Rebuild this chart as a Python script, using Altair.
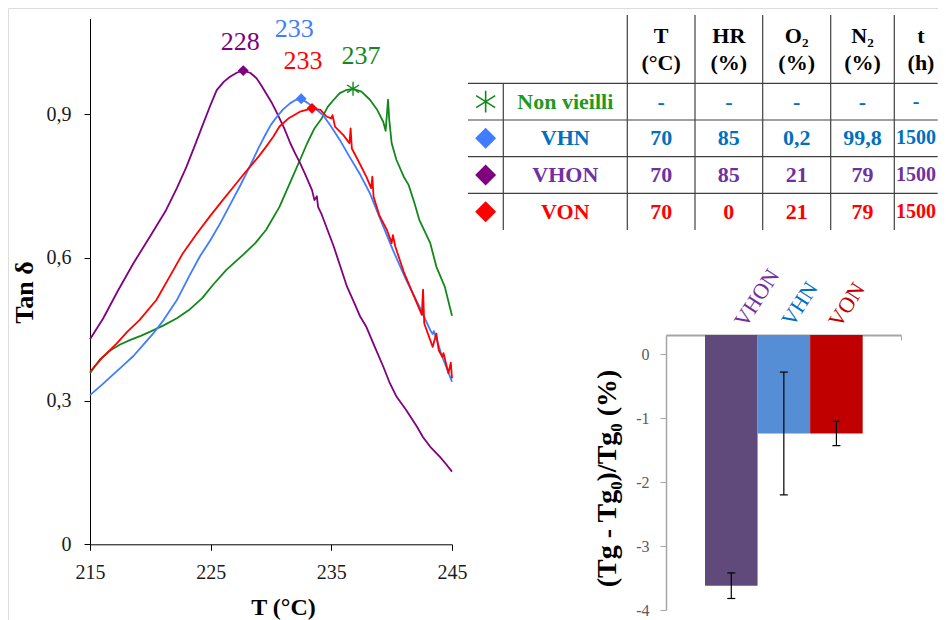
import altair as alt
import pandas as pd

FONT = "Liberation Serif, Times New Roman, serif"
W, H = 930, 612

# ---------------- data ----------------
series_names = ["Non vieilli", "VHN", "VHON", "VON"]

T_nv = [215.0, 215.8, 216.7, 217.5, 218.3, 219.2, 220.0, 221.1, 222.2, 223.2, 224.3,
        225.2, 226.3, 227.7, 228.7, 229.6, 230.7, 231.8, 232.4, 233.0, 233.6, 234.2,
        234.7, 235.2, 235.7, 236.2, 236.8, 237.5, 238.2, 238.8, 239.3, 239.5, 239.7,
        239.8, 240.0, 240.4, 241.0, 241.4, 241.9, 242.3, 243.2, 243.7, 244.4, 245.0]
tan_nv = [0.358, 0.386, 0.406, 0.418, 0.427, 0.436, 0.445, 0.458, 0.473, 0.490, 0.515,
          0.543, 0.574, 0.606, 0.630, 0.658, 0.706, 0.769, 0.804, 0.839, 0.870, 0.891,
          0.915, 0.930, 0.944, 0.950, 0.953, 0.947, 0.930, 0.909, 0.884, 0.865, 0.930,
          0.888, 0.839, 0.804, 0.769, 0.752, 0.713, 0.678, 0.630, 0.581, 0.539, 0.478]

T_vhn = [215.0, 216.0, 217.0, 218.0, 218.6, 219.5, 220.3, 221.1, 222.2, 223.2, 224.1,
         225.0, 225.8, 226.6, 227.4, 228.0, 228.5, 229.0, 229.6, 230.0, 230.5, 231.0,
         231.6, 232.0, 232.5, 233.0, 233.5, 234.3, 234.9, 235.7, 236.5, 237.4, 238.2,
         239.0, 240.1, 241.2, 242.3, 243.2, 243.4, 243.5, 244.2, 245.0]
tan_vhn = [0.312, 0.334, 0.357, 0.380, 0.394, 0.420, 0.443, 0.469, 0.511, 0.560, 0.602,
           0.637, 0.672, 0.710, 0.748, 0.778, 0.804, 0.831, 0.860, 0.878, 0.895, 0.910,
           0.923, 0.929, 0.932, 0.924, 0.915, 0.898, 0.877, 0.846, 0.811, 0.773, 0.734,
           0.684, 0.616, 0.553, 0.497, 0.448, 0.440, 0.446, 0.392, 0.340]

T_vhon = [215.0, 216.1, 217.3, 218.6, 220.0, 221.3, 222.2, 223.0, 223.7, 224.4, 225.0,
          225.5, 226.1, 226.6, 227.2, 227.7, 228.3, 228.8, 229.2, 229.6, 230.1, 230.5,
          231.1, 231.6, 232.0, 232.4, 232.8, 233.4, 233.6, 233.8, 233.9, 234.2, 235.2,
          236.3, 236.9, 237.4, 237.9, 238.6, 239.3, 239.8, 240.4, 241.2, 242.1, 242.6,
          243.2, 244.0, 244.5, 245.0]
tan_vhon = [0.429, 0.473, 0.530, 0.588, 0.645, 0.699, 0.745, 0.790, 0.835, 0.881, 0.920,
            0.950, 0.968, 0.978, 0.987, 0.991, 0.986, 0.975, 0.960, 0.943, 0.922, 0.902,
            0.870, 0.839, 0.818, 0.798, 0.776, 0.741, 0.720, 0.728, 0.706, 0.690, 0.623,
            0.539, 0.505, 0.476, 0.455, 0.413, 0.372, 0.340, 0.309, 0.281, 0.246, 0.224,
            0.204, 0.183, 0.168, 0.152]

T_von = [215.0, 216.0, 217.2, 218.1, 219.1, 220.5, 221.6, 222.7, 223.8, 224.9, 225.9,
         226.9, 227.7, 228.5, 229.0, 229.6, 230.2, 230.7, 231.5, 232.4, 233.4, 234.1,
         234.6, 235.0, 235.1, 235.3, 236.0, 236.5, 236.6, 236.7, 237.2, 237.9, 238.3,
         238.4, 238.5, 239.0, 239.6, 240.0, 240.1, 240.3, 241.0, 241.8, 242.5, 242.6,
         242.7, 243.4, 243.7, 243.9, 244.2, 244.3, 244.7, 244.9, 245.0]
tan_von = [0.361, 0.390, 0.420, 0.445, 0.469, 0.511, 0.560, 0.609, 0.648, 0.685, 0.717,
           0.748, 0.773, 0.797, 0.812, 0.832, 0.853, 0.874, 0.892, 0.905, 0.912, 0.909,
           0.895, 0.891, 0.898, 0.874, 0.856, 0.839, 0.870, 0.828, 0.804, 0.769, 0.745,
           0.769, 0.727, 0.687, 0.658, 0.630, 0.647, 0.623, 0.570, 0.522, 0.480, 0.533,
           0.462, 0.413, 0.441, 0.406, 0.392, 0.400, 0.358, 0.380, 0.347]

peak_T = [236.8, 232.5, 227.7, 233.4]
peak_tan = [0.953, 0.932, 0.991, 0.912]
peak_text = ["237", "233", "228", "233"]

table_head = ["T\n(°C)", "HR\n(%)", "O₂\n(%)", "N₂\n(%)", "t\n(h)"]
table_T = ["-", "70", "70", "70"]
table_HR = ["-", "85", "85", "0"]
table_O2 = ["-", "0,2", "21", "21"]
table_N2 = ["-", "99,8", "79", "79"]
table_t = ["-", "1500", "1500", "1500"]

bar_cats = ["VHON", "VHN", "VON"]
bar_vals = [-3.62, -1.24, -1.24]
bar_errs = [0.20, 0.96, 0.19]

# ---------------- styles ----------------
line_colors = ["#11891a", "#3f7cff", "#800080", "#ff0000"]
text_keys = ["hdr", "Non vieilli", "dash", "VHN", "VHON", "VON"]
text_colors = ["#000000", "#1f9a1f", "#0070c0", "#0070c0", "#7030a0", "#ff0000"]
bar_colors = ["#604a7b", "#558ed5", "#c00000"]
bar_label_colors = ["#7030a0", "#0070c0", "#c00000"]
STAR = "M0,-1L0,1M-0.87,-0.55L0.87,0.55M-0.87,0.55L0.87,-0.55"

# ---------------- left: tan delta curves ----------------
curves = pd.concat([
    pd.DataFrame({"series": "Non vieilli", "T": T_nv, "tan": tan_nv}),
    pd.DataFrame({"series": "VHON", "T": T_vhon, "tan": tan_vhon}),
    pd.DataFrame({"series": "VHN", "T": T_vhn, "tan": tan_vhn}),
    pd.DataFrame({"series": "VON", "T": T_von, "tan": tan_von}),
], ignore_index=True)
peaks = pd.DataFrame({"series": series_names, "T": peak_T, "tan": peak_tan, "label": peak_text})

x_left = alt.Scale(domain=[215, 245], range=[82, 444], zero=False, nice=False)
y_left = alt.Scale(domain=[0, 1.1], range=[536.3, 10.5], zero=False, nice=False)
c_series = alt.Scale(domain=series_names, range=line_colors)

ax_x_left = alt.Axis(orient="bottom", offset=536.3 - H, values=[215, 225, 235, 245],
                     title="T (°C)", titleFont=FONT, titleFontSize=24, titleFontWeight="bold",
                     titleColor="#000000", titleX=275, titleY=70, titleBaseline="alphabetic",
                     titleAlign="center",
                     labelFont=FONT, labelFontSize=20, labelColor="#1a1a1a", labelPadding=12,
                     labelFlush=False, tickSize=6, tickColor="#000000", domainColor="#000000",
                     grid=False)
ax_y_left = alt.Axis(orient="left", offset=-82, values=[0, 0.3, 0.6, 0.9],
                     labelExpr="datum.value == 0 ? '0' : replace(format(datum.value, '.1f'), '.', ',')",
                     title="Tan δ", titleFont=FONT, titleFontSize=26, titleFontWeight="bold",
                     titleColor="#000000", titleX=-66, titleY=284, titleBaseline="middle",
                     titleAngle=270, titleAlign="center",
                     labelFont=FONT, labelFontSize=20, labelColor="#1a1a1a", labelPadding=13,
                     labelFlush=False, tickSize=6, tickColor="#000000", domainColor="#000000",
                     grid=False)

def left_enc(ch):
    return ch.encode(
        x=alt.X("T:Q", scale=x_left, axis=ax_x_left),
        y=alt.Y("tan:Q", scale=y_left, axis=ax_y_left),
        color=alt.Color("series:N", scale=c_series, legend=None),
    )

lines = left_enc(alt.Chart(curves).mark_line(strokeWidth=1.8, strokeJoin="round"))
star = left_enc(alt.Chart(peaks).transform_filter(alt.datum.series == "Non vieilli")
                .mark_point(shape=STAR, filled=False, size=190, strokeWidth=1.4, opacity=1))
diam = left_enc(alt.Chart(peaks).transform_filter(alt.datum.series != "Non vieilli")
                .mark_point(shape="diamond", filled=True, size=120, opacity=1))

label_offsets = {"Non vieilli": (8, -33), "VHN": (-7, -70), "VHON": (-3, -29), "VON": (-9, -47)}
label_layers = []
for s, (dx, dy) in label_offsets.items():
    label_layers.append(
        left_enc(alt.Chart(peaks).transform_filter(alt.datum.series == s)
                 .mark_text(font=FONT, fontSize=26, dx=dx, dy=dy, baseline="middle", align="center"))
        .encode(text="label:N")
    )

left = alt.layer(lines, star, diam, *label_layers)

# ---------------- table ----------------
n_rows = len(series_names)
n_cols = 2 + len(table_head)
x_tab = alt.Scale(domain=[b - 0.5 for b in range(n_cols + 1)],
                  range=[460, 495.3, 619.3, 687, 754.7, 822.7, 886.3, 929.7], zero=False, nice=False)
y_tab = alt.Scale(domain=[-0.5, 0.5, n_rows + 0.5], range=[7, 75.3, 222], zero=False, nice=False)
c_text = alt.Scale(domain=text_keys, range=text_colors)

cells = []
for j, h in enumerate(table_head):
    cells.append(dict(col=j + 2, row=0, text=h, key="hdr"))
value_cols = [table_T, table_HR, table_O2, table_N2, table_t]
for i, name in enumerate(series_names):
    cells.append(dict(col=1, row=i + 1, text=name, key=name))
    for j, vals in enumerate(value_cols):
        cells.append(dict(col=j + 2, row=i + 1, text=vals[i],
                          key=("dash" if vals[i] == "-" else name)))
cells = pd.DataFrame(cells)

rules = [dict(x=-0.5, x2=n_cols - 0.5, y=r + 0.5, y2=r + 0.5) for r in range(n_rows)]
rules.append(dict(x=0.5, x2=0.5, y=0.5, y2=n_rows + 0.5))
rules += [dict(x=c + 0.5, x2=c + 0.5, y=-0.5, y2=n_rows + 0.5) for c in range(1, n_cols - 1)]
rules = pd.DataFrame(rules)

syms = pd.DataFrame({"series": series_names, "col": 0, "row": list(range(1, n_rows + 1))})

def tab_enc(ch, color_scale, color_field):
    return ch.encode(
        x=alt.X("col:Q", scale=x_tab, axis=None),
        y=alt.Y("row:Q", scale=y_tab, axis=None),
        color=alt.Color(color_field, scale=color_scale, legend=None),
    )

last = n_cols - 1
tab_head = tab_enc(alt.Chart(cells).transform_filter((alt.datum.row == 0) & (alt.datum.col < last))
                   .mark_text(font=FONT, fontSize=22, fontWeight="bold", lineBreak="\n",
                              lineHeight=27, baseline="middle", align="center", dy=-13.5),
                   c_text, "key:N").encode(text="text:N")
tab_head_last = tab_enc(alt.Chart(cells).transform_filter((alt.datum.row == 0) & (alt.datum.col == last))
                        .mark_text(font=FONT, fontSize=22, fontWeight="bold", lineBreak="\n",
                                   lineHeight=27, baseline="middle", align="center", dy=-13.5, dx=5),
                        c_text, "key:N").encode(text="text:N")
tab_body = tab_enc(alt.Chart(cells).transform_filter((alt.datum.row > 0) & (alt.datum.col < last))
                   .mark_text(font=FONT, fontSize=22, fontWeight="bold", baseline="middle",
                              align="center"),
                   c_text, "key:N").encode(text="text:N")
tab_last = tab_enc(alt.Chart(cells).transform_filter((alt.datum.row > 0) & (alt.datum.col == last))
                   .mark_text(font=FONT, fontSize=20, fontWeight="bold", baseline="middle",
                              align="center"),
                   c_text, "key:N").encode(text="text:N")
tab_rules = alt.Chart(rules).mark_rule(color="#404040", strokeWidth=1.2).encode(
    x=alt.X("x:Q", scale=x_tab, axis=None), x2="x2:Q",
    y=alt.Y("y:Q", scale=y_tab, axis=None), y2="y2:Q",
)
tab_star = tab_enc(alt.Chart(syms).transform_filter(alt.datum.series == "Non vieilli")
                   .mark_point(shape=STAR, filled=False, size=480, strokeWidth=1.6, opacity=1),
                   c_series, "series:N")
tab_diam = tab_enc(alt.Chart(syms).transform_filter(alt.datum.series != "Non vieilli")
                   .mark_point(shape="diamond", filled=True, size=440, opacity=1),
                   c_series, "series:N")

table = alt.layer(tab_rules, tab_head, tab_head_last, tab_body, tab_last,
                  tab_star, tab_diam).resolve_scale(color="independent")

# ---------------- bar chart ----------------
bars_df = pd.DataFrame({
    "cat": bar_cats,
    "x0": list(range(len(bar_cats))),
    "x1": [i + 1 for i in range(len(bar_cats))],
    "mid": [i + 0.5 for i in range(len(bar_cats))],
    "val": bar_vals,
    "lo": [v - e for v, e in zip(bar_vals, bar_errs)],
    "hi": [v + e for v, e in zip(bar_vals, bar_errs)],
})
x_bar = alt.Scale(domain=[-0.742, 3.729], range=[658, 893], zero=False, nice=False)
y_bar = alt.Scale(domain=[-4, 0.3], range=[602, 327], zero=False, nice=False)
c_bar = alt.Scale(domain=bar_cats, range=bar_colors)

ax_x_bar = alt.Axis(orient="bottom", offset=327 - H, values=[-0.742, 3.729], labels=False,
                    title=None, grid=False, tickSize=5, tickColor="#a6a6a6",
                    domainColor="#a6a6a6", domainWidth=2)
ax_y_bar = alt.Axis(orient="left", offset=-658, values=[0, -1, -2, -3, -4],
                    labelExpr="datum.value == 0 ? '0' : '-' + format(abs(datum.value), 'd')",
                    title="(Tg - Tg₀)/Tg₀ (%)", titleFont=FONT, titleFontSize=28,
                    titleFontWeight="bold", titleColor="#000000", titleX=-59, titleY=470,
                    titleBaseline="middle", titleAngle=270, titleAlign="center",
                    labelFont=FONT, labelFontSize=16, labelColor="#595959", labelPadding=11,
                    labelFlush=False, tickSize=6, tickColor="#a6a6a6", domainColor="#a6a6a6",
                    domainWidth=1.5, grid=False)

def bx(field):
    return alt.X(field, scale=x_bar, axis=ax_x_bar)

def by(field):
    return alt.Y(field, scale=y_bar, axis=ax_y_bar)

bars = alt.Chart(bars_df).mark_bar(opacity=1).encode(
    x=bx("x0:Q"), x2="x1:Q",
    y=by("val:Q"), y2=alt.datum(0.3),
    color=alt.Color("cat:N", scale=c_bar, legend=None),
)
err = alt.Chart(bars_df).mark_rule(color="#000000", strokeWidth=1.2).encode(
    x=bx("mid:Q"), y=by("lo:Q"), y2="hi:Q",
)
cap_lo = alt.Chart(bars_df).mark_tick(orient="horizontal", size=8, thickness=1.2,
                                      color="#000000", opacity=1).encode(x=bx("mid:Q"), y=by("lo:Q"))
cap_hi = alt.Chart(bars_df).mark_tick(orient="horizontal", size=8, thickness=1.2,
                                      color="#000000", opacity=1).encode(x=bx("mid:Q"), y=by("hi:Q"))

bar_label_offsets = [(45, 1.4), (34.7, -3.5), (30.9, -7.6)]
bar_labels = []
for i, cat in enumerate(bar_cats):
    dx, dy = bar_label_offsets[i]
    bar_labels.append(
        alt.Chart(bars_df).transform_filter(alt.datum.cat == cat)
        .mark_text(font=FONT, fontSize=22, angle=303, align="center", baseline="middle",
                   dx=dx, dy=dy, color=bar_label_colors[i])
        .encode(x=bx("mid:Q"),
                y=alt.Y(datum=0.3, scale=y_bar, axis=ax_y_bar),
                text="cat:N")
    )

bar = alt.layer(bars, err, cap_lo, cap_hi, *bar_labels)

chart = (
    alt.layer(left, table, bar)
    .resolve_scale(x="independent", y="independent", color="independent")
    .properties(width=W, height=H, padding=0, background="white",
                autosize=alt.AutoSizeParams(type="none"))
    .configure_view(stroke=None)
    .configure(font=FONT)
)

chart.save("out.html", embed_options={"renderer": "svg", "actions": False})
